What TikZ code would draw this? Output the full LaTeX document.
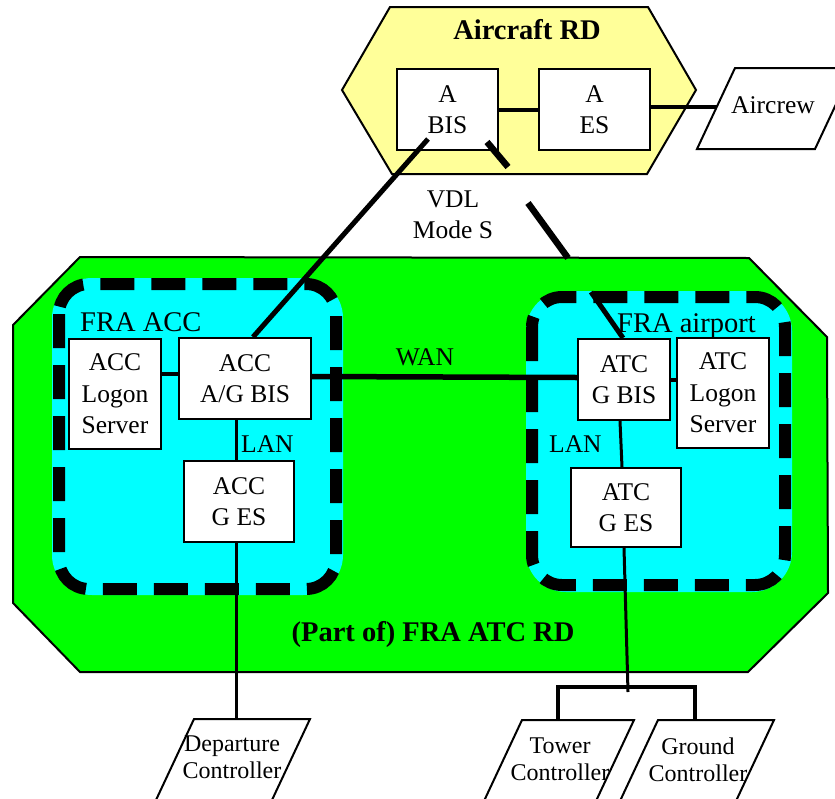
\documentclass[tikz,border=0pt]{standalone}
\usepackage{fontspec}
\setmainfont{Liberation Serif}
\usetikzlibrary{calc}
\definecolor{acyellow}{RGB}{255,255,153}
\definecolor{rdgreen}{RGB}{0,255,0}
\definecolor{fracyan}{RGB}{0,255,255}
\tikzset{
 box/.style={draw=black, line width=2pt, fill=white, inner sep=0pt, align=center, font=\fontsize{25.5}{31.5}\selectfont},
 txt/.style={inner sep=0pt, align=center, font=\fontsize{25.5}{31.5}\selectfont},
 ctrltxt/.style={inner sep=0pt, align=center, font=\fontsize{24}{27}\selectfont},
 bigbold/.style={inner sep=0pt, font=\fontsize{28.5}{33}\selectfont\bfseries},
 domlabel/.style={inner sep=0pt, font=\fontsize{28.5}{33}\selectfont},
 region/.style={draw=black, line width=2pt, line join=miter},
 para/.style={draw=black, line width=2pt, fill=white},
 domdash/.style={draw=black, line width=12pt, dash pattern=on 34pt off 17pt},
 thinlink/.style={line width=3pt},
 midlink/.style={line width=4pt},
 widelink/.style={line width=5.5pt},
 radiolink/.style={line width=5pt},
 radiothick/.style={line width=6.5pt},
}
\begin{document}
\begin{tikzpicture}[x=1pt,y=-1pt]
\useasboundingbox (0,0) rectangle (835,798);
% aircraft routing domain
\draw[region, fill=acyellow] (390,7) -- (648,7) -- (696,90) -- (647,174) -- (392,174) -- (342,90) -- cycle;
\node[bigbold, anchor=base] (acrd) at (527,39) {Aircraft RD};
% ground routing domain
\draw[region, fill=rdgreen] (80,257) -- (749,258) -- (827,337) -- (828,593) -- (748,672) -- (80,672) -- (13,603) -- (13,325) -- cycle;
\node[bigbold, anchor=base] (fraatc) at (433,641) {(Part of) FRA ATC RD};
% sub domains
\fill[fracyan, rounded corners=40pt] (52,278) rectangle (343,595);
\draw[domdash, rounded corners=30pt] (59,284) rectangle (336,589);
\fill[fracyan, rounded corners=40pt] (526,291) rectangle (792,592);
\draw[domdash, rounded corners=30pt] (532,297) rectangle (785,585);
\node[domlabel, anchor=base west] (fraacc) at (80,331) {FRA ACC};
\node[domlabel, anchor=base west] (fraapt) at (617,332) {FRA airport};
% parallelograms (humans)
\draw[para] (697,149) -- (735,68) -- (853,68) -- (815,149) -- cycle;
\node[txt] (aircrew) at (773,105.5) {Aircrew};
\draw[para] (156,800) -- (194,719) -- (310,719) -- (272,800) -- cycle;
\node[ctrltxt] (depctl) at (232,757) {Departure\\Controller};
\draw[para] (484,801) -- (522,720) -- (634,720) -- (596,801) -- cycle;
\node[ctrltxt] (twrctl) at (560,759.5) {Tower\\Controller};
\draw[para] (620,801) -- (658,720) -- (774,720) -- (736,801) -- cycle;
\node[ctrltxt] (gndctl) at (698,759.5) {Ground\\Controller};
% systems
\node[box, minimum width=101pt, minimum height=81pt] (abis) at (447.5,109.5) {A\\BIS};
\node[box, minimum width=111pt, minimum height=81pt] (aes) at (594.5,109.5) {A\\ES};
\node[box, minimum width=92pt, minimum height=110pt] (acclog) at (115,394) {ACC\\Logon\\Server};
\node[box, minimum width=132pt, minimum height=81pt] (accbis) at (245,378.5) {ACC\\A/G BIS};
\node[box, minimum width=110pt, minimum height=81pt] (accges) at (239,501.5) {ACC\\G ES};
\node[box, minimum width=92pt, minimum height=81pt] (atcbis) at (624,379.5) {ATC\\G BIS};
\node[box, minimum width=92pt, minimum height=110pt] (atclog) at (723,393) {ATC\\Logon\\Server};
\node[box, minimum width=110pt, minimum height=79pt] (atcges) at (626,507.5) {ATC\\G ES};
% link labels
\node[txt, anchor=base] (wan) at (425,365) {WAN};
\node[txt, anchor=base west] (lanacc) at (241,452) {LAN};
\node[txt, anchor=base west] (lanatc) at (549,452) {LAN};
\node[txt] (vdl) at (453,215) {VDL\\Mode S};
% free ends
\coordinate (crewL) at (717,107);
\coordinate (depTop) at (236,719);
\coordinate (brM) at (628,692);
\coordinate (brL) at (558,687);
\coordinate (brR) at (695,687);
\coordinate (twrTop) at (558,720);
\coordinate (gndTop) at (695,720);
\coordinate (rA1) at (428,139);
\coordinate (rA2) at (487,142);
\coordinate (rB) at (508,167);
\coordinate (rC) at (528,203);
\coordinate (rD) at (568,258);
\coordinate (rE) at (591,292);
% connectors
\draw[midlink] (abis.east) -- (aes.west);
\draw[midlink] ([yshift=2.5pt]aes.east) -- (crewL);
\draw[midlink] ([yshift=4.5pt]acclog.east |- accbis.west) -- ([yshift=4.5pt]accbis.west);
\draw[thinlink] ([xshift=-3pt]accges.north) -- ([xshift=-3pt]accges.north |- accbis.south);
\draw[thinlink] ([xshift=-3pt]accges.south) -- (depTop);
\draw[widelink] ([yshift=2pt]accbis.east) -- ([yshift=2pt]atcbis.west);
\draw[midlink] (atcbis.east) -- (atcbis.east -| atclog.west);
\draw[thinlink] ([xshift=-4pt]atcbis.south) -- ([xshift=-4pt]atcges.north);
\draw[thinlink] ([xshift=-2pt]atcges.south) -- (brM);
\draw[midlink] (twrTop) -- (brL) -- (brR) -- (gndTop);
% radio links
\draw[radiolink] (rA1) -- ([xshift=8pt]accbis.north);
\draw[radiothick] (rA2) -- (rB);
\draw[radiothick] (rC) -- (rD);
\draw[radiolink] (rE) -- ([xshift=-1pt]atcbis.north);
\end{tikzpicture}
\end{document}
